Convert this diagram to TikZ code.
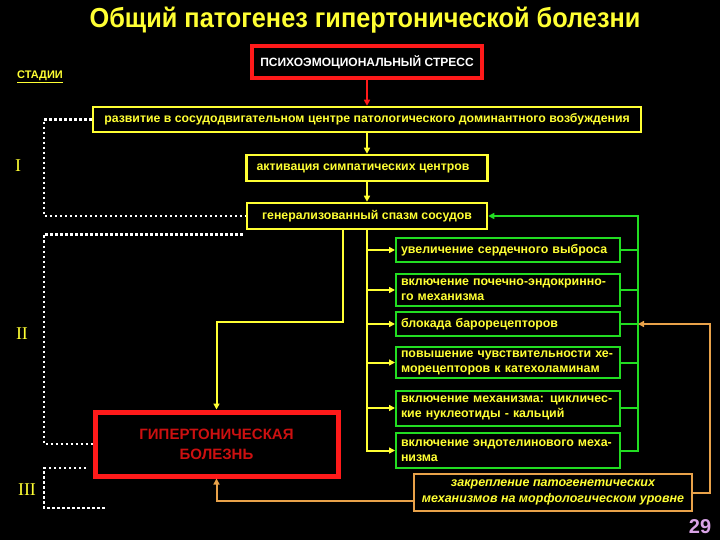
\documentclass[tikz,border=0pt]{standalone}
\usepackage{fontspec}
\setmainfont{Liberation Sans}
\newfontfamily\narrowsans[FakeStretch=0.92]{Liberation Sans}
\newfontfamily\stagefont{Liberation Serif}
\usetikzlibrary{arrows.meta}
\definecolor{SlideYellow}{HTML}{FFFF33}
\definecolor{SlideGreen}{HTML}{22DD22}
\definecolor{SlideRed}{HTML}{FF1A1A}
\definecolor{DarkRed}{HTML}{CC1010}
\definecolor{SlideOrange}{HTML}{E8A24A}
\definecolor{PageNum}{HTML}{D9A3E6}

\begin{document}
\begin{tikzpicture}[x=1pt, y=-1pt, >={Triangle[length=6pt,width=6pt]}]
\tikzset{ybox/.style={draw=SlideYellow, line width=2.5pt, text=SlideYellow, inner sep=0pt, minimum height=26pt, font=\bfseries\fontsize{12.3}{14}\selectfont}, gbox/.style={draw=SlideGreen, line width=2pt, text=SlideYellow, align=left, text width=218pt, inner xsep=3pt, inner ysep=0pt, font=\bfseries\fontsize{12.4}{15}\selectfont}, redbox/.style={draw=SlideRed, line width=4.5pt, inner sep=0pt}, yline/.style={draw=SlideYellow, line width=2pt}, gline/.style={draw=SlideGreen, line width=2pt}, oline/.style={draw=SlideOrange, line width=2pt}, stageline/.style={draw=white, line width=2.5pt, dash pattern=on 2.5pt off 2.5pt}, stage/.style={text=SlideYellow, font=\stagefont\fontsize{18}{20}\selectfont}}
\fill[black] (0,0) rectangle (720,540);
\node[text=SlideYellow, font=\narrowsans\bfseries\fontsize{27.5}{30}\selectfont] (title) at (365,20) {Общий патогенез гипертонической болезни};
\node[text=SlideYellow, font=\bfseries\fontsize{11}{13}\selectfont] (stages) at (40,77) {\underline{СТАДИИ}};
\node[redbox, minimum width=230pt, minimum height=32pt, text=white, font=\bfseries\fontsize{12}{13}\selectfont] (stress) at (367,62) {ПСИХОЭМОЦИОНАЛЬНЫЙ СТРЕСС};
\node[ybox, minimum width=548pt, minimum height=25pt] (focus) at (367,119.5) {развитие в сосудодвигательном центре патологического доминантного возбуждения};
\node[ybox, minimum width=241pt] (sympath) at (367,168) {\hspace*{-8pt}активация симпатических центров};
\node[ybox, minimum width=240pt] (spasm) at (367,216) {генерализованный спазм сосудов};
\node[gbox, minimum height=24pt] (output) at (508,250) {\hspace*{2pt}увеличение сердечного выброса};
\node[gbox, minimum height=32pt] (renal) at (508,290) {\hspace*{2pt}включение почечно-эндокринно-\\\hspace*{2pt}го механизма};
\node[gbox, minimum height=24pt] (baro) at (508,324) {\hspace*{2pt}блокада барорецепторов};
\node[gbox, minimum height=31pt] (chemo) at (508,362.5) {\hspace*{2pt}повышение чувствительности хе-\\\hspace*{2pt}морецепторов к катехоламинам};
\node[gbox, minimum height=35pt] (cyclic) at (508,408) {\hspace*{2pt}включение механизма: цикличес-\\\hspace*{2pt}кие нуклеотиды - кальций};
\node[gbox, minimum height=35pt] (endothelin) at (508,450.5) {\hspace*{2pt}включение эндотелинового меха-\\\hspace*{2pt}низма};
\node[redbox, line width=5pt, minimum width=243pt, minimum height=64pt, text=DarkRed, align=center, font=\bfseries\fontsize{15}{20}\selectfont] (disease) at (216.5,444) {ГИПЕРТОНИЧЕСКАЯ\\БОЛЕЗНЬ};
\node[draw=SlideOrange, line width=2pt, minimum width=278pt, minimum height=37pt, inner sep=0pt, text=SlideYellow, align=center, font=\bfseries\itshape\fontsize{12.5}{16.5}\selectfont] (fixation) at (553,492.5) {закрепление патогенетических\\механизмов на морфологическом уровне};
\node[stage] (s1) at (18,166) {I};
\node[stage] (s2) at (22,334) {II};
\node[stage] (s3) at (27,490) {III};
\node[text=PageNum, font=\bfseries\fontsize{20}{22}\selectfont] (page) at (700,527) {29};
\coordinate (stagebus) at (44,0); \coordinate (gbus) at (638,0); \coordinate (obus) at (710,0); \coordinate (bend) at (0,322);
\coordinate (IIIa) at (86,468); \coordinate (IIIb) at (105,508);
\draw[->, SlideRed, line width=2pt] (stress) -- (focus);
\draw[yline,->] (focus) -- (sympath); \draw[yline,->] (sympath) -- (spasm);
\draw[stageline] (focus.west) -| (stagebus |- spasm.west) -- (spasm.west);
\draw[stageline] ([xshift=-3pt,yshift=-4pt]spasm.south west) -| (stagebus |- disease.west) -- (disease.west);
\draw[stageline] (IIIa) -| (stagebus |- IIIb) -- (IIIb);
\foreach \g in {output,renal,baro,chemo,cyclic,endothelin} \draw[yline,->] (spasm.south) |- (\g.west);
\foreach \g in {output,renal,baro,chemo,cyclic} \draw[gline] (\g.east) -- (\g.east -| gbus);
\draw[gline,->] (endothelin.east) -| (gbus |- spasm.east) -- (spasm.east);
\draw[yline,->] ([xshift=-24pt]spasm.south) |- (disease.north |- bend) -- (disease.north);
\draw[oline,->] ([yshift=-8pt]fixation.west) -| (disease.south);
\draw[oline,->] (fixation.east) -| (obus |- baro.east) -- (gbus |- baro.east);
\end{tikzpicture}
\end{document}
